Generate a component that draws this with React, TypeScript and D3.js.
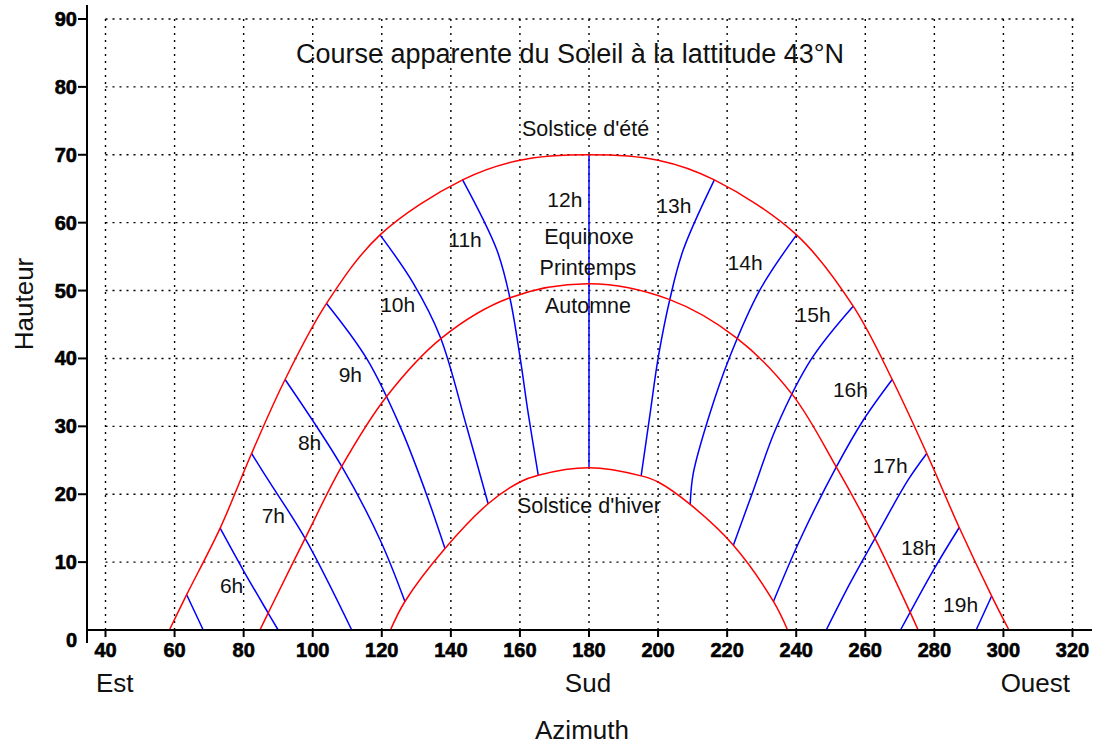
import * as d3 from "d3"

type Pt = [number, number]

// axis ticks
const xTicks = [40, 60, 80, 100, 120, 140, 160, 180, 200, 220, 240, 260, 280, 300, 320]
const yTicks = [10, 20, 30, 40, 50, 60, 70, 80, 90]

// sun paths [azimuth, altitude]
const summer: Pt[] = [
  [58.5, 0], [63.5, 5.2], [73.2, 15], [82.3, 26], [92, 36.9], [104, 48.1], [119.5, 58.2],
  [143.4, 66.3], [160, 69.2], [180, 70], [200, 69.2], [216.3, 66.3], [240.1, 58.2],
  [256.5, 47.7], [267.8, 36.9], [277.8, 26], [287.2, 15.1], [296.6, 5], [301.6, 0],
]
const equinox: Pt[] = [
  [84.7, 0], [87.1, 2.5], [97.8, 13.5], [108.4, 24.1], [121.4, 34.4], [137.3, 43],
  [156.9, 48.9], [180, 51], [203.2, 48.7], [222.8, 43], [239, 34.6], [251.5, 24.1],
  [262.8, 13.5], [272.9, 2.7], [275.3, 0],
]
const winter: Pt[] = [
  [122.5, 0], [126.7, 4.2], [138.3, 12], [150.8, 18.6], [160, 21.8], [165.3, 22.8],
  [180, 23.9], [195.1, 22.7], [200, 21.8], [209.3, 18.5], [221.8, 12.5], [233.4, 4.2],
  [237.5, 0],
]

// hour lines, 5h .. 19h
const hourLines: Pt[][] = [
  [[63.5, 5.2], [68.3, 0]],
  [[73.2, 15], [79.9, 8.8], [87.1, 2.5], [90, 0]],
  [[82.3, 26], [87.1, 22.1], [97.8, 13.5], [111.3, 0]],
  [[92, 36.9], [108.4, 24.1], [119.5, 13.3], [126.7, 4.2]],
  [[104, 48.1], [115.6, 40], [125.3, 30], [132.5, 20.6], [138.3, 12]],
  [[119.5, 58.2], [129.1, 51.1], [136.9, 43.2], [144.6, 29.9], [150.8, 18.6]],
  [[143.4, 66.3], [153.3, 56], [157.1, 48.9], [160, 40.3], [162.4, 31.9], [165.3, 22.8]],
  [[180, 70], [180, 23.9]],
  [[216.3, 66.3], [207.3, 56], [203.5, 48.9], [200.1, 40.3], [197.7, 31.9], [195.1, 22.7]],
  [[240.1, 58.2], [229.5, 50.1], [220.8, 40.3], [215, 31.9], [210.2, 23.1], [209.3, 18.5]],
  [[256.5, 47.7], [244.5, 40], [234.3, 29.9], [227.6, 20.6], [221.8, 12.5]],
  [[267.8, 36.9], [259.4, 30.9], [251.7, 24.1], [241.1, 13.3], [233.4, 4.2]],
  [[277.8, 26], [272.4, 22.1], [262.8, 13.5], [255.6, 6.9], [248.7, 0]],
  [[287.2, 15.1], [279.7, 8.8], [270.2, 0]],
  [[296.6, 5], [292.1, 0]],
]

// [text, azimuth, altitude] of label baseline centre
const hourLabels: [string, number, number][] = [
  ["6h", 76.5, 5.45], ["7h", 88.6, 15.8], ["8h", 99.1, 26.5], ["9h", 110.9, 36.5],
  ["10h", 124.6, 46.8], ["11h", 144.1, 56.4], ["12h", 173, 62.3], ["13h", 204.6, 61.4],
  ["14h", 225.2, 53], ["15h", 244.9, 45.4], ["16h", 255.7, 34.3], ["17h", 267.2, 23.1],
  ["18h", 275.4, 11], ["19h", 287.6, 2.65],
]
const curveLabels: [string, number, number][] = [
  ["Solstice d'été", 179, 72.8],
  ["Equinoxe", 180, 56.8],
  ["Printemps", 179.7, 52.3],
  ["Automne", 179.7, 46.7],
  ["Solstice d'hiver", 180, 17.2],
]

const title = "Course apparente du Soleil à la lattitude 43°N"
const textFont = "'Liberation Sans', Arial, sans-serif"

export default function App() {
  const x = d3.scaleLinear().domain([40, 320]).range([105.5, 1072.5])
  const y = d3.scaleLinear().domain([0, 90]).range([630, 19])

  // smooth curves through the read points
  const pathLine = d3
    .line<Pt>()
    .x((d) => x(d[0]))
    .y((d) => y(d[1]))
    .curve(d3.curveCatmullRom.alpha(0.5))

  const tickStyle = {
    fontFamily: textFont,
    fontWeight: 700,
    fontSize: 20,
    fill: "#000",
    stroke: "#000",
    strokeWidth: 0.6,
  }

  return (
    <svg
      width={1095}
      height={744}
      style={{ position: "absolute", left: 0, top: 0, background: "#fff" }}
    >
      {/* grid */}
      <g stroke="#000" strokeWidth={1.4} strokeDasharray="2 5" fill="none">
        {yTicks.map((t) => (
          <line key={"h" + t} x1={x(40)} x2={x(320) + 1} y1={y(t)} y2={y(t)} />
        ))}
        {xTicks.map((t) => (
          <line key={"v" + t} x1={x(t)} x2={x(t)} y1={y(90)} y2={y(0)} />
        ))}
      </g>

      {/* sun paths */}
      <g fill="none" stroke="#0000ff" strokeWidth={1.5}>
        {hourLines.map((pts, i) => (
          <path key={i} d={pathLine(pts) || ""} />
        ))}
      </g>
      <g fill="none" stroke="#ff0000" strokeWidth={1.5}>
        <path d={pathLine(summer) || ""} />
        <path d={pathLine(equinox) || ""} />
        <path d={pathLine(winter) || ""} />
      </g>

      {/* axes */}
      <g stroke="#000" strokeWidth={2}>
        <line x1={87} x2={87} y1={5} y2={643} />
        <line x1={86} x2={1092} y1={y(0)} y2={y(0)} />
        {yTicks.map((t) => (
          <line key={t} x1={78} x2={87} y1={y(t)} y2={y(t)} />
        ))}
        {xTicks.map((t) => (
          <line key={t} x1={x(t)} x2={x(t)} y1={y(0)} y2={y(0) + 7} />
        ))}
      </g>
      {yTicks.map((t) => (
        <text key={t} x={77} y={y(t) + 7} textAnchor="end" style={tickStyle}>
          {t}
        </text>
      ))}
      <text x={77} y={647} textAnchor="end" style={tickStyle}>
        0
      </text>
      {xTicks.map((t) => (
        <text key={t} x={x(t)} y={657} textAnchor="middle" style={tickStyle}>
          {t}
        </text>
      ))}

      {/* texts */}
      <g fontFamily={textFont} fill="#111">
        <text x={570} y={63} textAnchor="middle" fontSize={27}>
          {title}
        </text>
        {curveLabels.map(([s, a, h]) => (
          <text key={s} x={x(a)} y={y(h)} textAnchor="middle" fontSize={21.5}>
            {s}
          </text>
        ))}
        {hourLabels.map(([s, a, h]) => (
          <text key={s} x={x(a)} y={y(h)} textAnchor="middle" fontSize={21}>
            {s}
          </text>
        ))}
        <text x={96} y={692} fontSize={26}>
          Est
        </text>
        <text x={x(180) - 1} y={692} textAnchor="middle" fontSize={26}>
          Sud
        </text>
        <text x={1070} y={692} textAnchor="end" fontSize={26}>
          Ouest
        </text>
        <text x={582} y={739} textAnchor="middle" fontSize={26}>
          Azimuth
        </text>
        <text
          transform="translate(33,304) rotate(-90)"
          textAnchor="middle"
          fontSize={26}
        >
          Hauteur
        </text>
      </g>
    </svg>
  )
}
